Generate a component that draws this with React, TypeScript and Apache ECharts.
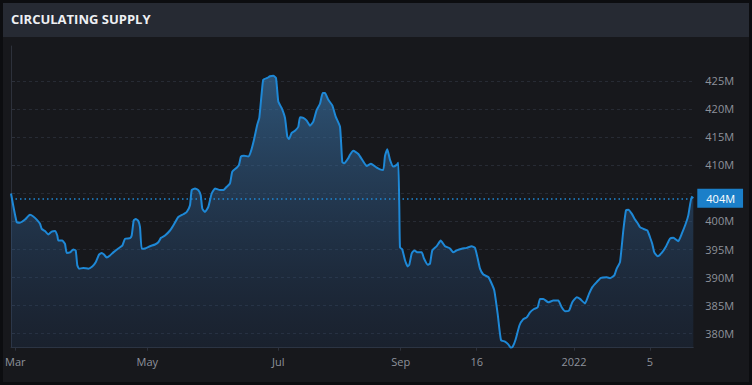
import React, { useEffect, useRef } from "react";
import * as echarts from "echarts";

// x position expressed as a bar index (half-pixel units of the original chart), y in millions
const barIndex = [
  0, 2.85, 4.5, 7, 9.5, 11.15, 12.85, 14.5, 15.35, 17, 18.65, 20.35, 22, 23.15, 23.65, 25.65, 27, 27.85, 29.5, 31.15,
  32.35, 33.15, 34, 36.15, 38.65, 40.65, 42.35, 44, 45.35, 46.5, 47.85, 49.5, 51.15, 53.65, 55.65, 57, 59.5, 60.35, 61.35, 62.35,
  63.65, 64.5, 65.35, 67, 69.5, 72, 73.65, 75, 77, 79.5, 81.15, 83.65, 86.15, 87.85, 89.5, 90.35, 92, 93.65, 94.85, 95.65,
  97, 98.65, 100.35, 102, 104.5, 106.15, 107.85, 109.5, 110.65, 112.85, 114, 115, 116.5, 118.65, 119.85, 121.5, 123.15, 124.15, 125.35, 126.15,
  128.15, 129.5, 131.15, 132.5, 133.65, 135.35, 137, 138.15, 139, 140.35, 142, 143.65, 144.5, 146.15, 147.85, 149.5, 151.15, 152.85, 154.5, 155.85,
  157, 158.65, 160.65, 162.35, 164.5, 165.65, 166.65, 168.65, 169.5, 171.15, 173.65, 176.15, 177.85, 180, 182.85, 184.5, 186.15, 187, 188.15, 189.5,
  191.15, 192.85, 193.65, 194.15, 194.5, 195.65, 197, 198.35, 199.15, 200.35, 201.65, 203.35, 205.35, 206.5, 208.35, 209.5, 210.65, 212.85, 214.85, 217,
  219.5, 221.15, 222.85, 225.35, 227.85, 230.35, 232, 233.35, 234.5, 236.15, 238.65, 240.35, 241.65, 243.35, 245, 247, 248.65, 249.85, 250.85, 252.35,
  254.25, 256.15, 257.85, 259.5, 261.5, 263.35, 264.5, 266.15, 268.65, 271.15, 273.65, 275.35, 277, 279, 280.65, 282.85, 284.5, 287, 289, 290.65,
  292.85, 295, 297.85, 299.5, 301.65, 302.85, 304.5, 306.15, 307.5, 308.65, 310.35, 312, 313.35, 314.5, 316.15, 318.15, 319.5, 320.65, 321.65, 323.35,
  325.35, 327.35, 329.5, 331.15, 333.65, 335.35, 337.35, 338.65, 340.35, 341.15,
];

const supply = [
  404.9, 399.8, 399.7, 400.25, 401.1, 400.8, 400.25, 399.5, 398.6, 398.2, 397.6, 398.1, 398.2, 397.4, 396.5, 396.5, 395.9, 394.3, 394.4, 394.9,
  394.75, 392.1, 391.5, 391.6, 391.5, 391.9, 392.65, 394.0, 394.3, 394.0, 393.5, 393.85, 394.4, 395.1, 395.6, 396.8, 396.95, 397.4, 400.1, 400.35,
  400.0, 398.9, 395.05, 395.1, 395.5, 395.8, 396.2, 397.0, 397.4, 398.3, 399.2, 400.7, 401.2, 401.6, 402.8, 405.5, 405.8, 405.5, 404.6, 402.2,
  401.6, 402.5, 404.9, 405.8, 405.5, 405.5, 406.1, 406.7, 408.8, 409.5, 410.0, 411.5, 411.65, 411.5, 412.3, 414.5, 417.2, 418.4, 422.8, 425.2,
  425.5, 425.8, 425.9, 425.5, 421.3, 420.1, 418.35, 415.05, 414.6, 415.7, 416.1, 416.8, 418.5, 418.4, 417.9, 417.0, 417.7, 419.8, 420.9, 422.8,
  422.8, 421.6, 420.6, 418.6, 416.8, 410.5, 410.3, 411.2, 411.8, 412.5, 411.95, 410.6, 409.8, 410.2, 409.5, 409.2, 409.1, 411.6, 412.8, 410.9,
  409.7, 410.0, 410.4, 402.5, 395.3, 394.9, 393.0, 391.9, 392.2, 394.2, 394.75, 394.4, 394.4, 393.3, 392.2, 392.4, 394.75, 395.5, 396.5, 395.5,
  395.1, 394.4, 394.75, 395.05, 395.2, 395.5, 395.2, 393.3, 391.5, 390.45, 390.0, 388.8, 387.6, 383.4, 378.75, 378.5, 378.0, 377.4, 377.55, 378.9,
  381.4, 382.5, 382.8, 383.7, 384.3, 384.6, 386.1, 386.1, 385.5, 385.8, 385.8, 384.6, 383.9, 384.0, 385.5, 386.4, 386.1, 385.3, 387.0, 388.2,
  389.1, 389.85, 389.95, 389.8, 390.3, 391.5, 392.65, 398.3, 401.9, 402.0, 401.3, 400.25, 399.6, 398.9, 398.6, 398.3, 397.1, 395.9, 394.4, 393.7,
  394.3, 395.35, 396.85, 397.0, 396.4, 397.7, 399.5, 401.0, 404.3, 404.05,
];

const xTickPositions = [2.15, 68.15, 133.65, 194.85, 232.85, 281.5, 319.5];
const xTickLabels = ["Mar", "May", "Jul", "Sep", "16", "2022", "5"];
const yTickValues = [380, 385, 390, 395, 400, 405, 410, 415, 420, 425];

const X_MAX = 341.15;
const Y_MIN = 377.4;
const Y_MAX = 431.2;

export default function App() {
  const ref = useRef<HTMLDivElement>(null);

  useEffect(() => {
    if (!ref.current) return;
    const chart = echarts.init(ref.current, undefined, { renderer: "svg" });
    const points = barIndex.map((x, i) => [x, supply[i]]);
    const last = supply[supply.length - 1];
    const labelFont = "'Open Sans', 'Noto Sans', sans-serif";

    chart.setOption({
      animation: false,
      backgroundColor: "#0c0d10",
      title: {
        text: "CIRCULATING SUPPLY",
        left: 11,
        top: 12,
        padding: 0,
        textStyle: {
          color: "#eef0f3",
          fontSize: 13,
          fontWeight: "bold",
          fontFamily: labelFont,
        },
      },
      graphic: [
        {
          type: "rect",
          z: -10,
          silent: true,
          shape: { x: 3, y: 37, width: 746, height: 345 },
          style: { fill: "#17181c" },
        },
        {
          type: "rect",
          z: -10,
          silent: true,
          shape: { x: 3, y: 3, width: 746, height: 34 },
          style: { fill: "#262a33" },
        },
      ],
      grid: { left: 11, right: 58.7, top: 46, bottom: 37.3, containLabel: false },
      xAxis: {
        type: "value",
        min: 0,
        max: X_MAX,
        axisLine: { show: true, lineStyle: { color: "#2d313b", width: 1 } },
        axisTick: { show: true, length: 3, customValues: xTickPositions, lineStyle: { color: "#2d313b" } },
        splitLine: { show: false },
        axisLabel: {
          customValues: xTickPositions,
          color: "#8e929b",
          fontSize: 11,
          fontFamily: labelFont,
          margin: 8,
          formatter: (v: number) => {
            const i = xTickPositions.findIndex((p) => Math.abs(p - v) < 0.01);
            return i >= 0 ? xTickLabels[i] : "";
          },
        },
      },
      yAxis: {
        type: "value",
        position: "right",
        offset: 4,
        min: Y_MIN,
        max: Y_MAX,
        axisLine: { show: true, lineStyle: { color: "#2d313b", width: 1 } },
        axisTick: { show: true, length: 4, customValues: yTickValues, lineStyle: { color: "#2d313b" } },
        splitLine: { show: true, lineStyle: { color: "#272b34", type: [3, 3], width: 1 } },
        axisLabel: {
          customValues: yTickValues,
          color: "#8e929b",
          fontSize: 11,
          fontFamily: labelFont,
          margin: 8,
          formatter: (v: number) => `${v}M`,
        },
      },
      series: [
        {
          type: "line",
          data: points,
          showSymbol: false,
          smooth: 0.15,
          lineStyle: { color: "#1e88d6", width: 2 },
          itemStyle: { color: "#1e88d6" },
          areaStyle: {
            origin: "start",
            color: new echarts.graphic.LinearGradient(0, 0, 0, 1, [
              { offset: 0, color: "rgba(62,125,180,0.85)" },
              { offset: 1, color: "rgba(36,67,111,0.3)" },
            ]),
          },
          markLine: {
            silent: true,
            symbol: "none",
            lineStyle: { color: "#1e88d6", type: [1.5, 3], width: 1.5 },
            label: {
              position: "end",
              distance: 4,
              formatter: `${Math.round(last)}M`,
              color: "#ffffff",
              fontSize: 11,
              fontFamily: labelFont,
              backgroundColor: "#1b7fc9",
              padding: [4, 8, 4, 9],
            },
            data: [{ yAxis: last }],
          },
        },
      ],
    });

    return () => chart.dispose();
  }, []);

  return (
    <div style={{ position: "fixed", left: 0, top: 0, width: 752, height: 385, background: "#0c0d10" }}>
      <div ref={ref} style={{ width: 752, height: 385 }} />
    </div>
  );
}
